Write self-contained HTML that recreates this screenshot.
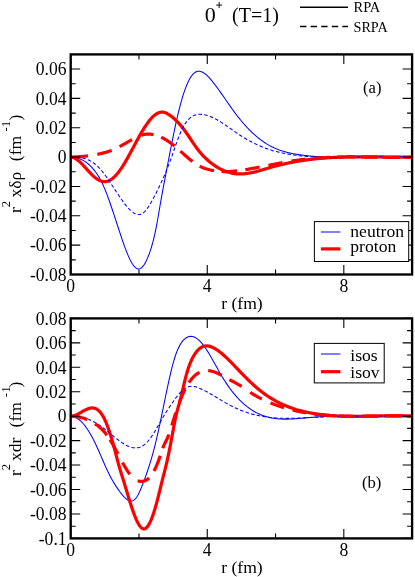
<!DOCTYPE html>
<html><head><meta charset="utf-8"><title>chart</title><style>html,body{margin:0;padding:0;background:#fff}body{width:415px;height:577px;overflow:hidden;font-family:"Liberation Serif",serif}</style></head><body>
<svg width="415" height="577" viewBox="0 0 415 577" style="display:block;will-change:transform">
<rect width="415" height="577" fill="#fff"/>
<defs><clipPath id="ca"><rect x="70.7" y="54.4" width="341.40000000000003" height="220.1"/></clipPath><clipPath id="cb"><rect x="70.7" y="318.4" width="341.40000000000003" height="220.0"/></clipPath></defs>
<g clip-path="url(#ca)"><path d="M70.70,157.13 L71.55,157.16 L72.41,157.23 L73.26,157.31 L74.11,157.42 L74.97,157.56 L75.82,157.72 L76.67,157.91 L77.53,158.13 L78.38,158.38 L79.23,158.67 L80.09,158.99 L80.94,159.34 L81.80,159.73 L82.65,160.15 L83.50,160.61 L84.36,161.12 L85.21,161.66 L86.06,162.24 L86.92,162.87 L87.77,163.54 L88.62,164.26 L89.48,165.02 L90.33,165.83 L91.18,166.69 L92.04,167.60 L92.89,168.56 L93.74,169.57 L94.60,170.64 L95.45,171.76 L96.31,172.94 L97.16,174.18 L98.01,175.49 L98.87,176.88 L99.72,178.35 L100.57,179.91 L101.43,181.56 L102.28,183.32 L103.13,185.17 L103.99,187.11 L104.84,189.13 L105.69,191.23 L106.55,193.41 L107.40,195.66 L108.25,197.96 L109.11,200.33 L109.96,202.74 L110.81,205.21 L111.67,207.71 L112.52,210.24 L113.38,212.81 L114.23,215.40 L115.08,218.00 L115.94,220.62 L116.79,223.25 L117.64,225.87 L118.50,228.49 L119.35,231.11 L120.20,233.70 L121.06,236.27 L121.91,238.81 L122.76,241.30 L123.62,243.75 L124.47,246.13 L125.32,248.44 L126.18,250.68 L127.03,252.83 L127.88,254.89 L128.74,256.84 L129.59,258.68 L130.44,260.40 L131.30,261.98 L132.15,263.43 L133.01,264.74 L133.86,265.88 L134.71,266.86 L135.57,267.67 L136.42,268.29 L137.27,268.73 L138.13,268.96 L138.98,268.98 L139.83,268.79 L140.69,268.39 L141.54,267.78 L142.39,266.96 L143.25,265.96 L144.10,264.76 L144.95,263.37 L145.81,261.80 L146.66,260.06 L147.51,258.15 L148.37,256.07 L149.22,253.83 L150.08,251.42 L150.93,248.81 L151.78,246.00 L152.64,242.96 L153.49,239.68 L154.34,236.13 L155.20,232.30 L156.05,228.17 L156.90,223.73 L157.76,218.98 L158.61,214.03 L159.46,208.99 L160.32,203.97 L161.17,199.08 L162.02,194.32 L162.88,189.68 L163.73,185.12 L164.59,180.61 L165.44,176.14 L166.29,171.68 L167.15,167.21 L168.00,162.75 L168.85,158.30 L169.71,153.88 L170.56,149.49 L171.41,145.15 L172.27,140.86 L173.12,136.64 L173.97,132.49 L174.83,128.42 L175.68,124.46 L176.53,120.59 L177.39,116.84 L178.24,113.21 L179.09,109.72 L179.95,106.36 L180.80,103.16 L181.66,100.10 L182.51,97.20 L183.36,94.44 L184.22,91.83 L185.07,89.38 L185.92,87.09 L186.78,84.95 L187.63,82.97 L188.48,81.15 L189.34,79.48 L190.19,77.99 L191.04,76.65 L191.90,75.48 L192.75,74.46 L193.60,73.59 L194.46,72.88 L195.31,72.30 L196.16,71.85 L197.02,71.53 L197.87,71.34 L198.73,71.27 L199.58,71.30 L200.43,71.45 L201.29,71.69 L202.14,72.03 L202.99,72.46 L203.85,72.97 L204.70,73.56 L205.55,74.22 L206.41,74.95 L207.26,75.74 L208.11,76.58 L208.97,77.48 L209.82,78.42 L210.67,79.40 L211.53,80.41 L212.38,81.45 L213.23,82.51 L214.09,83.59 L214.94,84.70 L215.80,85.82 L216.65,86.96 L217.50,88.12 L218.36,89.29 L219.21,90.48 L220.06,91.67 L220.92,92.88 L221.77,94.09 L222.62,95.31 L223.48,96.54 L224.33,97.77 L225.18,99.01 L226.04,100.24 L226.89,101.48 L227.74,102.71 L228.60,103.94 L229.45,105.16 L230.30,106.38 L231.16,107.59 L232.01,108.79 L232.87,109.98 L233.72,111.16 L234.57,112.32 L235.43,113.47 L236.28,114.60 L237.13,115.71 L237.99,116.81 L238.84,117.89 L239.69,118.95 L240.55,120.00 L241.40,121.03 L242.25,122.04 L243.11,123.03 L243.96,124.01 L244.81,124.97 L245.67,125.92 L246.52,126.85 L247.37,127.76 L248.23,128.65 L249.08,129.53 L249.94,130.39 L250.79,131.24 L251.64,132.06 L252.50,132.88 L253.35,133.67 L254.20,134.45 L255.06,135.21 L255.91,135.95 L256.76,136.68 L257.62,137.39 L258.47,138.08 L259.32,138.76 L260.18,139.42 L261.03,140.06 L261.88,140.69 L262.74,141.30 L263.59,141.90 L264.44,142.47 L265.30,143.03 L266.15,143.58 L267.00,144.10 L267.86,144.62 L268.71,145.11 L269.57,145.59 L270.42,146.05 L271.27,146.50 L272.13,146.93 L272.98,147.34 L273.83,147.74 L274.69,148.13 L275.54,148.50 L276.39,148.86 L277.25,149.21 L278.10,149.55 L278.95,149.87 L279.81,150.18 L280.66,150.47 L281.51,150.76 L282.37,151.03 L283.22,151.30 L284.07,151.55 L284.93,151.80 L285.78,152.03 L286.64,152.26 L287.49,152.47 L288.34,152.68 L289.20,152.88 L290.05,153.07 L290.90,153.25 L291.76,153.43 L292.61,153.60 L293.46,153.76 L294.32,153.92 L295.17,154.07 L296.02,154.21 L296.88,154.35 L297.73,154.49 L298.58,154.62 L299.44,154.75 L300.29,154.87 L301.14,154.99 L302.00,155.10 L302.85,155.22 L303.71,155.32 L304.56,155.43 L305.41,155.53 L306.27,155.63 L307.12,155.73 L307.97,155.82 L308.83,155.91 L309.68,156.00 L310.53,156.08 L311.39,156.16 L312.24,156.24 L313.09,156.31 L313.95,156.39 L314.80,156.46 L315.65,156.52 L316.51,156.59 L317.36,156.65 L318.22,156.70 L319.07,156.76 L319.92,156.81 L320.78,156.86 L321.63,156.91 L322.48,156.96 L323.34,157.00 L324.19,157.04 L325.04,157.08 L325.90,157.12 L326.75,157.15 L327.60,157.19 L328.46,157.22 L329.31,157.24 L330.16,157.27 L331.02,157.29 L331.87,157.32 L332.72,157.34 L333.58,157.36 L334.43,157.37 L335.28,157.39 L336.14,157.40 L336.99,157.41 L337.85,157.42 L338.70,157.43 L339.55,157.44 L340.41,157.44 L341.26,157.45 L342.11,157.45 L342.97,157.45 L343.82,157.45 L344.67,157.45 L345.53,157.45 L346.38,157.45 L347.23,157.44 L348.09,157.43 L348.94,157.43 L349.79,157.42 L350.65,157.41 L351.50,157.40 L352.36,157.39 L353.21,157.38 L354.06,157.37 L354.92,157.36 L355.77,157.34 L356.62,157.33 L357.48,157.31 L358.33,157.30 L359.18,157.28 L360.04,157.27 L360.89,157.25 L361.74,157.23 L362.60,157.21 L363.45,157.20 L364.30,157.18 L365.16,157.16 L366.01,157.14 L366.86,157.12 L367.72,157.11 L368.57,157.09 L369.43,157.07 L370.28,157.05 L371.13,157.03 L371.99,157.01 L372.84,157.00 L373.69,156.98 L374.55,156.96 L375.40,156.95 L376.25,156.93 L377.11,156.91 L377.96,156.90 L378.81,156.88 L379.67,156.87 L380.52,156.85 L381.37,156.84 L382.23,156.83 L383.08,156.82 L383.93,156.80 L384.79,156.79 L385.64,156.78 L386.50,156.78 L387.35,156.77 L388.20,156.76 L389.06,156.76 L389.91,156.75 L390.76,156.75 L391.62,156.75 L392.47,156.75 L393.32,156.75 L394.18,156.75 L395.03,156.75 L395.88,156.76 L396.74,156.76 L397.59,156.77 L398.44,156.78 L399.30,156.79 L400.15,156.80 L401.00,156.81 L401.86,156.83 L402.71,156.85 L403.56,156.87 L404.42,156.89 L405.27,156.91 L406.13,156.93 L406.98,156.96 L407.83,156.99 L408.69,157.02 L409.54,157.05 L410.39,157.09 L411.25,157.13 L412.10,157.17" fill="none" stroke="#0000ff" stroke-width="1.05"/>
<path d="M70.70,157.10 L71.55,157.15 L72.41,157.30 L73.26,157.55 L74.11,157.88 L74.97,158.29 L75.82,158.77 L76.67,159.33 L77.53,159.95 L78.38,160.63 L79.23,161.36 L80.09,162.14 L80.94,162.96 L81.80,163.82 L82.65,164.70 L83.50,165.61 L84.36,166.54 L85.21,167.48 L86.06,168.43 L86.92,169.39 L87.77,170.34 L88.62,171.28 L89.48,172.20 L90.33,173.10 L91.18,173.98 L92.04,174.83 L92.89,175.64 L93.74,176.41 L94.60,177.14 L95.45,177.82 L96.31,178.46 L97.16,179.05 L98.01,179.58 L98.87,180.06 L99.72,180.48 L100.57,180.84 L101.43,181.14 L102.28,181.37 L103.13,181.53 L103.99,181.62 L104.84,181.64 L105.69,181.58 L106.55,181.44 L107.40,181.22 L108.25,180.93 L109.11,180.57 L109.96,180.13 L110.81,179.62 L111.67,179.05 L112.52,178.40 L113.38,177.70 L114.23,176.92 L115.08,176.09 L115.94,175.19 L116.79,174.24 L117.64,173.23 L118.50,172.16 L119.35,171.04 L120.20,169.87 L121.06,168.64 L121.91,167.37 L122.76,166.05 L123.62,164.69 L124.47,163.29 L125.32,161.86 L126.18,160.40 L127.03,158.90 L127.88,157.39 L128.74,155.85 L129.59,154.29 L130.44,152.72 L131.30,151.13 L132.15,149.54 L133.01,147.94 L133.86,146.34 L134.71,144.74 L135.57,143.15 L136.42,141.57 L137.27,139.99 L138.13,138.43 L138.98,136.89 L139.83,135.38 L140.69,133.88 L141.54,132.41 L142.39,130.98 L143.25,129.57 L144.10,128.20 L144.95,126.86 L145.81,125.57 L146.66,124.32 L147.51,123.11 L148.37,121.95 L149.22,120.84 L150.08,119.79 L150.93,118.79 L151.78,117.85 L152.64,116.97 L153.49,116.15 L154.34,115.40 L155.20,114.72 L156.05,114.11 L156.90,113.57 L157.76,113.11 L158.61,112.74 L159.46,112.44 L160.32,112.22 L161.17,112.10 L162.02,112.06 L162.88,112.12 L163.73,112.26 L164.59,112.48 L165.44,112.77 L166.29,113.14 L167.15,113.56 L168.00,114.03 L168.85,114.56 L169.71,115.12 L170.56,115.72 L171.41,116.36 L172.27,117.03 L173.12,117.73 L173.97,118.47 L174.83,119.24 L175.68,120.05 L176.53,120.89 L177.39,121.76 L178.24,122.67 L179.09,123.61 L179.95,124.58 L180.80,125.58 L181.66,126.62 L182.51,127.69 L183.36,128.78 L184.22,129.91 L185.07,131.07 L185.92,132.26 L186.78,133.48 L187.63,134.72 L188.48,135.97 L189.34,137.24 L190.19,138.51 L191.04,139.79 L191.90,141.07 L192.75,142.33 L193.60,143.59 L194.46,144.84 L195.31,146.06 L196.16,147.26 L197.02,148.43 L197.87,149.56 L198.73,150.66 L199.58,151.72 L200.43,152.74 L201.29,153.74 L202.14,154.69 L202.99,155.62 L203.85,156.52 L204.70,157.38 L205.55,158.21 L206.41,159.02 L207.26,159.80 L208.11,160.55 L208.97,161.28 L209.82,161.98 L210.67,162.66 L211.53,163.32 L212.38,163.96 L213.23,164.58 L214.09,165.17 L214.94,165.75 L215.80,166.31 L216.65,166.85 L217.50,167.37 L218.36,167.87 L219.21,168.35 L220.06,168.81 L220.92,169.25 L221.77,169.67 L222.62,170.07 L223.48,170.46 L224.33,170.82 L225.18,171.16 L226.04,171.48 L226.89,171.79 L227.74,172.07 L228.60,172.33 L229.45,172.57 L230.30,172.80 L231.16,173.00 L232.01,173.18 L232.87,173.35 L233.72,173.49 L234.57,173.61 L235.43,173.71 L236.28,173.80 L237.13,173.86 L237.99,173.91 L238.84,173.94 L239.69,173.96 L240.55,173.95 L241.40,173.93 L242.25,173.90 L243.11,173.85 L243.96,173.79 L244.81,173.71 L245.67,173.62 L246.52,173.52 L247.37,173.40 L248.23,173.28 L249.08,173.14 L249.94,172.99 L250.79,172.83 L251.64,172.66 L252.50,172.48 L253.35,172.30 L254.20,172.10 L255.06,171.90 L255.91,171.69 L256.76,171.47 L257.62,171.25 L258.47,171.02 L259.32,170.79 L260.18,170.55 L261.03,170.31 L261.88,170.07 L262.74,169.82 L263.59,169.57 L264.44,169.31 L265.30,169.06 L266.15,168.81 L267.00,168.55 L267.86,168.30 L268.71,168.04 L269.57,167.79 L270.42,167.54 L271.27,167.29 L272.13,167.04 L272.98,166.79 L273.83,166.55 L274.69,166.32 L275.54,166.08 L276.39,165.86 L277.25,165.63 L278.10,165.41 L278.95,165.19 L279.81,164.98 L280.66,164.76 L281.51,164.56 L282.37,164.35 L283.22,164.15 L284.07,163.95 L284.93,163.76 L285.78,163.57 L286.64,163.38 L287.49,163.20 L288.34,163.02 L289.20,162.84 L290.05,162.67 L290.90,162.50 L291.76,162.33 L292.61,162.17 L293.46,162.01 L294.32,161.85 L295.17,161.69 L296.02,161.54 L296.88,161.39 L297.73,161.25 L298.58,161.10 L299.44,160.96 L300.29,160.83 L301.14,160.69 L302.00,160.56 L302.85,160.43 L303.71,160.31 L304.56,160.19 L305.41,160.07 L306.27,159.95 L307.12,159.83 L307.97,159.72 L308.83,159.61 L309.68,159.51 L310.53,159.40 L311.39,159.30 L312.24,159.20 L313.09,159.10 L313.95,159.01 L314.80,158.92 L315.65,158.83 L316.51,158.74 L317.36,158.66 L318.22,158.57 L319.07,158.49 L319.92,158.42 L320.78,158.34 L321.63,158.27 L322.48,158.20 L323.34,158.13 L324.19,158.06 L325.04,158.00 L325.90,157.93 L326.75,157.87 L327.60,157.81 L328.46,157.76 L329.31,157.70 L330.16,157.65 L331.02,157.60 L331.87,157.55 L332.72,157.50 L333.58,157.46 L334.43,157.41 L335.28,157.37 L336.14,157.33 L336.99,157.29 L337.85,157.26 L338.70,157.22 L339.55,157.19 L340.41,157.16 L341.26,157.13 L342.11,157.10 L342.97,157.07 L343.82,157.04 L344.67,157.02 L345.53,157.00 L346.38,156.98 L347.23,156.96 L348.09,156.94 L348.94,156.92 L349.79,156.90 L350.65,156.89 L351.50,156.87 L352.36,156.86 L353.21,156.85 L354.06,156.84 L354.92,156.83 L355.77,156.82 L356.62,156.81 L357.48,156.81 L358.33,156.80 L359.18,156.80 L360.04,156.80 L360.89,156.79 L361.74,156.79 L362.60,156.79 L363.45,156.79 L364.30,156.79 L365.16,156.79 L366.01,156.80 L366.86,156.80 L367.72,156.80 L368.57,156.81 L369.43,156.81 L370.28,156.82 L371.13,156.83 L371.99,156.83 L372.84,156.84 L373.69,156.85 L374.55,156.86 L375.40,156.87 L376.25,156.87 L377.11,156.88 L377.96,156.89 L378.81,156.90 L379.67,156.92 L380.52,156.93 L381.37,156.94 L382.23,156.95 L383.08,156.96 L383.93,156.97 L384.79,156.98 L385.64,156.99 L386.50,157.01 L387.35,157.02 L388.20,157.03 L389.06,157.04 L389.91,157.05 L390.76,157.07 L391.62,157.08 L392.47,157.09 L393.32,157.10 L394.18,157.11 L395.03,157.12 L395.88,157.13 L396.74,157.14 L397.59,157.15 L398.44,157.16 L399.30,157.17 L400.15,157.18 L401.00,157.19 L401.86,157.20 L402.71,157.21 L403.56,157.21 L404.42,157.22 L405.27,157.22 L406.13,157.23 L406.98,157.24 L407.83,157.24 L408.69,157.24 L409.54,157.25 L410.39,157.25 L411.25,157.25 L412.10,157.25" fill="none" stroke="#ff0000" stroke-width="3.2" stroke-linejoin="round"/>
<path d="M70.70,157.13 L71.55,157.13 L72.41,157.13 L73.26,157.14 L74.11,157.16 L74.97,157.19 L75.82,157.23 L76.67,157.28 L77.53,157.34 L78.38,157.42 L79.23,157.52 L80.09,157.64 L80.94,157.77 L81.80,157.93 L82.65,158.10 L83.50,158.31 L84.36,158.53 L85.21,158.79 L86.06,159.07 L86.92,159.38 L87.77,159.72 L88.62,160.09 L89.48,160.50 L90.33,160.94 L91.18,161.42 L92.04,161.94 L92.89,162.49 L93.74,163.08 L94.60,163.72 L95.45,164.40 L96.31,165.13 L97.16,165.90 L98.01,166.71 L98.87,167.58 L99.72,168.49 L100.57,169.45 L101.43,170.44 L102.28,171.48 L103.13,172.55 L103.99,173.65 L104.84,174.79 L105.69,175.95 L106.55,177.14 L107.40,178.35 L108.25,179.58 L109.11,180.83 L109.96,182.10 L110.81,183.38 L111.67,184.67 L112.52,185.96 L113.38,187.26 L114.23,188.57 L115.08,189.87 L115.94,191.17 L116.79,192.47 L117.64,193.76 L118.50,195.03 L119.35,196.30 L120.20,197.55 L121.06,198.78 L121.91,199.99 L122.76,201.18 L123.62,202.34 L124.47,203.47 L125.32,204.57 L126.18,205.64 L127.03,206.67 L127.88,207.66 L128.74,208.60 L129.59,209.49 L130.44,210.32 L131.30,211.09 L132.15,211.80 L133.01,212.43 L133.86,212.99 L134.71,213.47 L135.57,213.87 L136.42,214.18 L137.27,214.39 L138.13,214.51 L138.98,214.52 L139.83,214.43 L140.69,214.22 L141.54,213.90 L142.39,213.46 L143.25,212.89 L144.10,212.19 L144.95,211.36 L145.81,210.41 L146.66,209.34 L147.51,208.18 L148.37,206.92 L149.22,205.58 L150.08,204.17 L150.93,202.70 L151.78,201.18 L152.64,199.62 L153.49,198.04 L154.34,196.43 L155.20,194.80 L156.05,193.15 L156.90,191.47 L157.76,189.76 L158.61,188.03 L159.46,186.27 L160.32,184.47 L161.17,182.64 L162.02,180.77 L162.88,178.87 L163.73,176.93 L164.59,174.95 L165.44,172.93 L166.29,170.87 L167.15,168.77 L168.00,166.61 L168.85,164.42 L169.71,162.17 L170.56,159.87 L171.41,157.52 L172.27,155.12 L173.12,152.67 L173.97,150.21 L174.83,147.74 L175.68,145.28 L176.53,142.87 L177.39,140.50 L178.24,138.21 L179.09,136.02 L179.95,133.94 L180.80,131.97 L181.66,130.12 L182.51,128.39 L183.36,126.77 L184.22,125.27 L185.07,123.89 L185.92,122.62 L186.78,121.46 L187.63,120.41 L188.48,119.45 L189.34,118.60 L190.19,117.83 L191.04,117.16 L191.90,116.57 L192.75,116.06 L193.60,115.62 L194.46,115.26 L195.31,114.96 L196.16,114.72 L197.02,114.54 L197.87,114.42 L198.73,114.34 L199.58,114.31 L200.43,114.31 L201.29,114.36 L202.14,114.43 L202.99,114.54 L203.85,114.67 L204.70,114.83 L205.55,115.02 L206.41,115.23 L207.26,115.47 L208.11,115.74 L208.97,116.03 L209.82,116.34 L210.67,116.67 L211.53,117.03 L212.38,117.41 L213.23,117.80 L214.09,118.22 L214.94,118.65 L215.80,119.10 L216.65,119.56 L217.50,120.04 L218.36,120.53 L219.21,121.04 L220.06,121.56 L220.92,122.09 L221.77,122.63 L222.62,123.19 L223.48,123.75 L224.33,124.32 L225.18,124.89 L226.04,125.48 L226.89,126.07 L227.74,126.66 L228.60,127.26 L229.45,127.86 L230.30,128.46 L231.16,129.06 L232.01,129.67 L232.87,130.27 L233.72,130.87 L234.57,131.47 L235.43,132.07 L236.28,132.66 L237.13,133.25 L237.99,133.83 L238.84,134.40 L239.69,134.97 L240.55,135.53 L241.40,136.08 L242.25,136.62 L243.11,137.15 L243.96,137.68 L244.81,138.19 L245.67,138.70 L246.52,139.20 L247.37,139.69 L248.23,140.17 L249.08,140.65 L249.94,141.11 L250.79,141.57 L251.64,142.02 L252.50,142.46 L253.35,142.89 L254.20,143.31 L255.06,143.73 L255.91,144.14 L256.76,144.54 L257.62,144.93 L258.47,145.31 L259.32,145.69 L260.18,146.05 L261.03,146.41 L261.88,146.77 L262.74,147.11 L263.59,147.45 L264.44,147.77 L265.30,148.09 L266.15,148.41 L267.00,148.71 L267.86,149.01 L268.71,149.30 L269.57,149.58 L270.42,149.86 L271.27,150.12 L272.13,150.39 L272.98,150.64 L273.83,150.89 L274.69,151.13 L275.54,151.36 L276.39,151.59 L277.25,151.81 L278.10,152.02 L278.95,152.23 L279.81,152.43 L280.66,152.63 L281.51,152.82 L282.37,153.00 L283.22,153.18 L284.07,153.35 L284.93,153.52 L285.78,153.69 L286.64,153.85 L287.49,154.00 L288.34,154.15 L289.20,154.29 L290.05,154.43 L290.90,154.57 L291.76,154.70 L292.61,154.83 L293.46,154.95 L294.32,155.07 L295.17,155.18 L296.02,155.29 L296.88,155.40 L297.73,155.51 L298.58,155.61 L299.44,155.71 L300.29,155.80 L301.14,155.89 L302.00,155.98 L302.85,156.07 L303.71,156.15 L304.56,156.23 L305.41,156.30 L306.27,156.38 L307.12,156.45 L307.97,156.51 L308.83,156.58 L309.68,156.64 L310.53,156.70 L311.39,156.75 L312.24,156.81 L313.09,156.86 L313.95,156.91 L314.80,156.95 L315.65,156.99 L316.51,157.04 L317.36,157.07 L318.22,157.11 L319.07,157.14 L319.92,157.17 L320.78,157.20 L321.63,157.23 L322.48,157.25 L323.34,157.28 L324.19,157.30 L325.04,157.32 L325.90,157.33 L326.75,157.35 L327.60,157.36 L328.46,157.37 L329.31,157.38 L330.16,157.39 L331.02,157.40 L331.87,157.40 L332.72,157.40 L333.58,157.40 L334.43,157.40 L335.28,157.40 L336.14,157.40 L336.99,157.40 L337.85,157.39 L338.70,157.38 L339.55,157.38 L340.41,157.37 L341.26,157.36 L342.11,157.34 L342.97,157.33 L343.82,157.32 L344.67,157.30 L345.53,157.29 L346.38,157.27 L347.23,157.26 L348.09,157.24 L348.94,157.22 L349.79,157.20 L350.65,157.18 L351.50,157.16 L352.36,157.14 L353.21,157.12 L354.06,157.10 L354.92,157.08 L355.77,157.05 L356.62,157.03 L357.48,157.01 L358.33,156.99 L359.18,156.96 L360.04,156.94 L360.89,156.92 L361.74,156.89 L362.60,156.87 L363.45,156.85 L364.30,156.82 L365.16,156.80 L366.01,156.78 L366.86,156.76 L367.72,156.73 L368.57,156.71 L369.43,156.69 L370.28,156.67 L371.13,156.65 L371.99,156.63 L372.84,156.61 L373.69,156.59 L374.55,156.57 L375.40,156.56 L376.25,156.54 L377.11,156.52 L377.96,156.51 L378.81,156.50 L379.67,156.48 L380.52,156.47 L381.37,156.46 L382.23,156.45 L383.08,156.44 L383.93,156.43 L384.79,156.43 L385.64,156.42 L386.50,156.42 L387.35,156.41 L388.20,156.41 L389.06,156.41 L389.91,156.42 L390.76,156.42 L391.62,156.42 L392.47,156.43 L393.32,156.44 L394.18,156.45 L395.03,156.46 L395.88,156.48 L396.74,156.49 L397.59,156.51 L398.44,156.53 L399.30,156.55 L400.15,156.57 L401.00,156.60 L401.86,156.63 L402.71,156.65 L403.56,156.69 L404.42,156.72 L405.27,156.76 L406.13,156.80 L406.98,156.84 L407.83,156.88 L408.69,156.93 L409.54,156.98 L410.39,157.03 L411.25,157.08 L412.10,157.14" fill="none" stroke="#0000ff" stroke-width="1.05" stroke-dasharray="3.6 2.2"/>
<path d="M70.70,157.10 L71.56,157.09 L72.43,157.07 L73.30,157.04 L74.16,157.01 L75.03,156.97 L75.89,156.93 L76.75,156.89 L77.62,156.84 L78.48,156.78 L79.35,156.72 L80.22,156.66 L81.08,156.59 L81.94,156.51 L82.81,156.43 L83.67,156.35 L84.54,156.26 L85.41,156.16 L86.27,156.06 L87.13,155.96 L88.00,155.85M97.30,154.31 L98.19,154.13 L99.09,153.95 L99.98,153.75 L100.88,153.55 L101.77,153.34 L102.66,153.13 L103.56,152.90 L104.45,152.66 L105.34,152.42 L106.24,152.16 L107.13,151.88 L108.02,151.60 L108.92,151.30 L109.81,150.98 L110.71,150.65 L111.60,150.30M119.60,146.54 L120.49,146.06 L121.37,145.59 L122.26,145.10 L123.14,144.61 L124.03,144.12 L124.91,143.62 L125.80,143.12 L126.69,142.61 L127.57,142.11 L128.46,141.60 L129.34,141.10 L130.23,140.59 L131.11,140.09 L132.00,139.59M141.40,135.18 L142.26,134.93 L143.13,134.71 L143.99,134.53 L144.86,134.38 L145.72,134.27 L146.59,134.18 L147.45,134.13 L148.31,134.12 L149.18,134.13 L150.04,134.17 L150.91,134.25 L151.77,134.35 L152.64,134.48 L153.50,134.65M161.20,137.27 L162.09,137.70 L162.99,138.16 L163.88,138.64 L164.77,139.15 L165.67,139.67 L166.56,140.22 L167.45,140.79 L168.35,141.39 L169.24,142.00 L170.13,142.63 L171.03,143.29 L171.92,143.96 L172.81,144.65 L173.71,145.36 L174.60,146.08M180.40,151.10 L181.26,151.88 L182.13,152.65 L182.99,153.43 L183.86,154.21 L184.72,154.98 L185.59,155.75 L186.45,156.52 L187.31,157.27 L188.18,158.02 L189.04,158.75 L189.91,159.47 L190.77,160.18 L191.64,160.87 L192.50,161.54M199.70,166.21 L200.59,166.65 L201.49,167.07 L202.38,167.46 L203.28,167.83 L204.17,168.17 L205.06,168.49 L205.96,168.79 L206.85,169.06 L207.74,169.32 L208.64,169.56 L209.53,169.79 L210.43,170.00 L211.32,170.20 L212.21,170.38 L213.11,170.55 L214.00,170.70M221.50,171.48 L222.36,171.52 L223.22,171.55 L224.08,171.57 L224.94,171.57 L225.81,171.57 L226.67,171.56 L227.53,171.54 L228.39,171.51 L229.25,171.48 L230.11,171.44 L230.97,171.38 L231.83,171.33 L232.69,171.26 L233.56,171.19 L234.42,171.11 L235.28,171.03 L236.14,170.93 L237.00,170.84M245.30,169.67 L246.19,169.52 L247.07,169.38 L247.96,169.23 L248.85,169.07 L249.74,168.92 L250.62,168.76 L251.51,168.60 L252.40,168.44 L253.29,168.28 L254.18,168.12 L255.06,167.96 L255.95,167.79 L256.84,167.62 L257.73,167.45 L258.61,167.29 L259.50,167.12M268.40,165.37 L269.28,165.20 L270.15,165.03 L271.02,164.85 L271.90,164.68 L272.77,164.51 L273.65,164.34 L274.53,164.17 L275.40,163.99 L276.27,163.82 L277.15,163.66 L278.03,163.49 L278.90,163.32 L279.78,163.15 L280.65,162.99 L281.52,162.82 L282.40,162.66M291.50,161.07 L292.40,160.92 L293.30,160.78 L294.20,160.64 L295.10,160.50 L296.00,160.36 L296.90,160.23 L297.80,160.10 L298.70,159.97 L299.60,159.85 L300.50,159.73 L301.40,159.61 L302.30,159.50 L303.20,159.39 L304.10,159.28 L305.00,159.18M314.00,158.29 L314.89,158.22 L315.78,158.15 L316.67,158.08 L317.56,158.02 L318.44,157.95 L319.33,157.89 L320.22,157.83 L321.11,157.78 L322.00,157.72 L322.89,157.67 L323.78,157.62 L324.67,157.58 L325.56,157.53 L326.44,157.49 L327.33,157.45 L328.22,157.41 L329.11,157.37 L330.00,157.33M337.00,157.12 L337.86,157.10 L338.71,157.08 L339.57,157.06 L340.43,157.05 L341.29,157.03 L342.14,157.02 L343.00,157.01 L343.86,157.00 L344.71,156.99 L345.57,156.98 L346.43,156.97 L347.29,156.97 L348.14,156.96 L349.00,156.96 L349.86,156.96 L350.71,156.95 L351.57,156.95 L352.43,156.95 L353.29,156.95 L354.14,156.96 L355.00,156.96M361.00,156.99 L361.89,157.00 L362.78,157.01 L363.67,157.02 L364.56,157.03 L365.44,157.04 L366.33,157.05 L367.22,157.06 L368.11,157.07 L369.00,157.08 L369.89,157.09 L370.78,157.10 L371.67,157.11 L372.56,157.12 L373.44,157.13 L374.33,157.14 L375.22,157.15 L376.11,157.16 L377.00,157.17M382.00,157.23 L382.86,157.24 L383.71,157.25 L384.57,157.26 L385.43,157.27 L386.29,157.27 L387.14,157.28 L388.00,157.29 L388.86,157.29 L389.71,157.30 L390.57,157.30 L391.43,157.30 L392.29,157.31 L393.14,157.31 L394.00,157.31 L394.86,157.31 L395.71,157.31 L396.57,157.31 L397.43,157.31 L398.29,157.31 L399.14,157.30 L400.00,157.30M405.00,157.25 L405.88,157.23 L406.75,157.22 L407.63,157.20 L408.50,157.19 L409.38,157.17 L410.25,157.15 L411.12,157.13 L412.00,157.10" fill="none" stroke="#ff0000" stroke-width="3.2"/>
</g>
<g clip-path="url(#cb)"><path d="M70.70,416.17 L71.55,416.22 L72.41,416.34 L73.26,416.52 L74.11,416.78 L74.97,417.10 L75.82,417.49 L76.67,417.95 L77.53,418.48 L78.38,419.07 L79.23,419.73 L80.09,420.45 L80.94,421.23 L81.80,422.08 L82.65,422.99 L83.50,423.97 L84.36,425.00 L85.21,426.10 L86.06,427.25 L86.92,428.47 L87.77,429.74 L88.62,431.07 L89.48,432.46 L90.33,433.91 L91.18,435.41 L92.04,436.96 L92.89,438.57 L93.74,440.24 L94.60,441.96 L95.45,443.73 L96.31,445.55 L97.16,447.41 L98.01,449.30 L98.87,451.23 L99.72,453.17 L100.57,455.13 L101.43,457.10 L102.28,459.07 L103.13,461.04 L103.99,462.99 L104.84,464.93 L105.69,466.84 L106.55,468.72 L107.40,470.56 L108.25,472.35 L109.11,474.10 L109.96,475.78 L110.81,477.41 L111.67,478.98 L112.52,480.50 L113.38,481.97 L114.23,483.39 L115.08,484.76 L115.94,486.09 L116.79,487.38 L117.64,488.64 L118.50,489.86 L119.35,491.04 L120.20,492.20 L121.06,493.31 L121.91,494.39 L122.76,495.41 L123.62,496.37 L124.47,497.27 L125.32,498.09 L126.18,498.84 L127.03,499.49 L127.88,500.06 L128.74,500.52 L129.59,500.85 L130.44,501.04 L131.30,501.08 L132.15,500.94 L133.01,500.64 L133.86,500.15 L134.71,499.46 L135.57,498.58 L136.42,497.48 L137.27,496.18 L138.13,494.67 L138.98,492.99 L139.83,491.16 L140.69,489.20 L141.54,487.15 L142.39,485.01 L143.25,482.83 L144.10,480.59 L144.95,478.29 L145.81,475.93 L146.66,473.50 L147.51,471.00 L148.37,468.42 L149.22,465.77 L150.08,463.04 L150.93,460.22 L151.78,457.30 L152.64,454.29 L153.49,451.16 L154.34,447.91 L155.20,444.52 L156.05,441.00 L156.90,437.36 L157.76,433.62 L158.61,429.78 L159.46,425.85 L160.32,421.85 L161.17,417.78 L162.02,413.67 L162.88,409.51 L163.73,405.34 L164.59,401.16 L165.44,397.00 L166.29,392.88 L167.15,388.81 L168.00,384.81 L168.85,380.89 L169.71,377.09 L170.56,373.41 L171.41,369.86 L172.27,366.49 L173.12,363.28 L173.97,360.28 L174.83,357.49 L175.68,354.91 L176.53,352.55 L177.39,350.40 L178.24,348.43 L179.09,346.65 L179.95,345.05 L180.80,343.61 L181.66,342.33 L182.51,341.20 L183.36,340.20 L184.22,339.33 L185.07,338.59 L185.92,337.95 L186.78,337.43 L187.63,337.01 L188.48,336.69 L189.34,336.47 L190.19,336.36 L191.04,336.34 L191.90,336.41 L192.75,336.57 L193.60,336.83 L194.46,337.16 L195.31,337.58 L196.16,338.08 L197.02,338.66 L197.87,339.32 L198.73,340.05 L199.58,340.84 L200.43,341.71 L201.29,342.64 L202.14,343.63 L202.99,344.69 L203.85,345.80 L204.70,346.96 L205.55,348.18 L206.41,349.45 L207.26,350.76 L208.11,352.12 L208.97,353.52 L209.82,354.94 L210.67,356.40 L211.53,357.89 L212.38,359.39 L213.23,360.91 L214.09,362.45 L214.94,363.99 L215.80,365.53 L216.65,367.08 L217.50,368.62 L218.36,370.15 L219.21,371.66 L220.06,373.16 L220.92,374.64 L221.77,376.09 L222.62,377.51 L223.48,378.90 L224.33,380.26 L225.18,381.59 L226.04,382.89 L226.89,384.16 L227.74,385.41 L228.60,386.63 L229.45,387.82 L230.30,388.98 L231.16,390.11 L232.01,391.22 L232.87,392.30 L233.72,393.36 L234.57,394.39 L235.43,395.39 L236.28,396.37 L237.13,397.32 L237.99,398.24 L238.84,399.15 L239.69,400.02 L240.55,400.88 L241.40,401.71 L242.25,402.51 L243.11,403.29 L243.96,404.05 L244.81,404.79 L245.67,405.50 L246.52,406.20 L247.37,406.87 L248.23,407.51 L249.08,408.14 L249.94,408.75 L250.79,409.33 L251.64,409.89 L252.50,410.44 L253.35,410.96 L254.20,411.47 L255.06,411.95 L255.91,412.42 L256.76,412.86 L257.62,413.29 L258.47,413.70 L259.32,414.09 L260.18,414.46 L261.03,414.82 L261.88,415.16 L262.74,415.48 L263.59,415.79 L264.44,416.08 L265.30,416.35 L266.15,416.61 L267.00,416.86 L267.86,417.09 L268.71,417.30 L269.57,417.50 L270.42,417.69 L271.27,417.87 L272.13,418.03 L272.98,418.18 L273.83,418.32 L274.69,418.44 L275.54,418.56 L276.39,418.66 L277.25,418.75 L278.10,418.83 L278.95,418.90 L279.81,418.96 L280.66,419.01 L281.51,419.05 L282.37,419.09 L283.22,419.11 L284.07,419.13 L284.93,419.14 L285.78,419.14 L286.64,419.13 L287.49,419.12 L288.34,419.10 L289.20,419.08 L290.05,419.04 L290.90,419.01 L291.76,418.97 L292.61,418.92 L293.46,418.87 L294.32,418.81 L295.17,418.75 L296.02,418.69 L296.88,418.62 L297.73,418.56 L298.58,418.48 L299.44,418.41 L300.29,418.34 L301.14,418.26 L302.00,418.18 L302.85,418.10 L303.71,418.03 L304.56,417.95 L305.41,417.87 L306.27,417.79 L307.12,417.71 L307.97,417.64 L308.83,417.56 L309.68,417.49 L310.53,417.42 L311.39,417.35 L312.24,417.29 L313.09,417.22 L313.95,417.16 L314.80,417.10 L315.65,417.05 L316.51,416.99 L317.36,416.94 L318.22,416.89 L319.07,416.84 L319.92,416.79 L320.78,416.75 L321.63,416.70 L322.48,416.66 L323.34,416.62 L324.19,416.59 L325.04,416.55 L325.90,416.52 L326.75,416.48 L327.60,416.45 L328.46,416.42 L329.31,416.39 L330.16,416.37 L331.02,416.34 L331.87,416.32 L332.72,416.30 L333.58,416.28 L334.43,416.26 L335.28,416.24 L336.14,416.22 L336.99,416.21 L337.85,416.19 L338.70,416.18 L339.55,416.17 L340.41,416.16 L341.26,416.15 L342.11,416.14 L342.97,416.14 L343.82,416.13 L344.67,416.12 L345.53,416.12 L346.38,416.12 L347.23,416.11 L348.09,416.11 L348.94,416.11 L349.79,416.11 L350.65,416.11 L351.50,416.12 L352.36,416.12 L353.21,416.12 L354.06,416.13 L354.92,416.13 L355.77,416.13 L356.62,416.14 L357.48,416.15 L358.33,416.15 L359.18,416.16 L360.04,416.17 L360.89,416.17 L361.74,416.18 L362.60,416.19 L363.45,416.20 L364.30,416.21 L365.16,416.22 L366.01,416.23 L366.86,416.24 L367.72,416.25 L368.57,416.26 L369.43,416.27 L370.28,416.28 L371.13,416.29 L371.99,416.30 L372.84,416.31 L373.69,416.32 L374.55,416.32 L375.40,416.33 L376.25,416.34 L377.11,416.35 L377.96,416.36 L378.81,416.37 L379.67,416.38 L380.52,416.39 L381.37,416.39 L382.23,416.40 L383.08,416.41 L383.93,416.41 L384.79,416.42 L385.64,416.42 L386.50,416.43 L387.35,416.43 L388.20,416.43 L389.06,416.44 L389.91,416.44 L390.76,416.44 L391.62,416.44 L392.47,416.44 L393.32,416.44 L394.18,416.43 L395.03,416.43 L395.88,416.43 L396.74,416.42 L397.59,416.42 L398.44,416.41 L399.30,416.40 L400.15,416.39 L401.00,416.38 L401.86,416.37 L402.71,416.36 L403.56,416.34 L404.42,416.33 L405.27,416.31 L406.13,416.29 L406.98,416.27 L407.83,416.25 L408.69,416.23 L409.54,416.21 L410.39,416.18 L411.25,416.16 L412.10,416.13" fill="none" stroke="#0000ff" stroke-width="1.05"/>
<path d="M70.70,416.15 L71.55,416.13 L72.41,416.03 L73.26,415.87 L74.11,415.65 L74.97,415.37 L75.82,415.04 L76.67,414.67 L77.53,414.27 L78.38,413.83 L79.23,413.38 L80.09,412.90 L80.94,412.41 L81.80,411.92 L82.65,411.43 L83.50,410.95 L84.36,410.49 L85.21,410.04 L86.06,409.62 L86.92,409.23 L87.77,408.88 L88.62,408.58 L89.48,408.33 L90.33,408.14 L91.18,408.01 L92.04,407.95 L92.89,407.97 L93.74,408.07 L94.60,408.27 L95.45,408.55 L96.31,408.94 L97.16,409.44 L98.01,410.05 L98.87,410.79 L99.72,411.65 L100.57,412.64 L101.43,413.77 L102.28,415.05 L103.13,416.48 L103.99,418.07 L104.84,419.81 L105.69,421.70 L106.55,423.73 L107.40,425.91 L108.25,428.21 L109.11,430.65 L109.96,433.22 L110.81,435.91 L111.67,438.71 L112.52,441.63 L113.38,444.66 L114.23,447.79 L115.08,451.02 L115.94,454.33 L116.79,457.67 L117.64,460.97 L118.50,464.16 L119.35,467.18 L120.20,470.06 L121.06,472.84 L121.91,475.57 L122.76,478.29 L123.62,481.04 L124.47,483.83 L125.32,486.65 L126.18,489.49 L127.03,492.33 L127.88,495.15 L128.74,497.95 L129.59,500.72 L130.44,503.43 L131.30,506.08 L132.15,508.64 L133.01,511.12 L133.86,513.50 L134.71,515.75 L135.57,517.87 L136.42,519.85 L137.27,521.67 L138.13,523.32 L138.98,524.79 L139.83,526.06 L140.69,527.11 L141.54,527.94 L142.39,528.54 L143.25,528.88 L144.10,528.95 L144.95,528.75 L145.81,528.28 L146.66,527.55 L147.51,526.56 L148.37,525.33 L149.22,523.87 L150.08,522.18 L150.93,520.28 L151.78,518.18 L152.64,515.88 L153.49,513.40 L154.34,510.74 L155.20,507.92 L156.05,504.95 L156.90,501.83 L157.76,498.58 L158.61,495.21 L159.46,491.76 L160.32,488.26 L161.17,484.75 L162.02,481.29 L162.88,477.90 L163.73,474.59 L164.59,471.28 L165.44,467.93 L166.29,464.47 L167.15,460.83 L168.00,456.96 L168.85,452.87 L169.71,448.60 L170.56,444.18 L171.41,439.66 L172.27,435.06 L173.12,430.43 L173.97,425.84 L174.83,421.40 L175.68,417.22 L176.53,413.43 L177.39,410.08 L178.24,407.03 L179.09,404.11 L179.95,401.10 L180.80,397.84 L181.66,394.28 L182.51,390.55 L183.36,386.77 L184.22,383.10 L185.07,379.62 L185.92,376.35 L186.78,373.29 L187.63,370.44 L188.48,367.80 L189.34,365.37 L190.19,363.15 L191.04,361.12 L191.90,359.26 L192.75,357.57 L193.60,356.02 L194.46,354.62 L195.31,353.33 L196.16,352.16 L197.02,351.11 L197.87,350.16 L198.73,349.32 L199.58,348.58 L200.43,347.94 L201.29,347.40 L202.14,346.94 L202.99,346.58 L203.85,346.29 L204.70,346.09 L205.55,345.97 L206.41,345.91 L207.26,345.93 L208.11,346.01 L208.97,346.16 L209.82,346.36 L210.67,346.62 L211.53,346.93 L212.38,347.29 L213.23,347.70 L214.09,348.14 L214.94,348.62 L215.80,349.14 L216.65,349.68 L217.50,350.26 L218.36,350.86 L219.21,351.48 L220.06,352.14 L220.92,352.81 L221.77,353.51 L222.62,354.23 L223.48,354.97 L224.33,355.73 L225.18,356.51 L226.04,357.31 L226.89,358.12 L227.74,358.94 L228.60,359.78 L229.45,360.62 L230.30,361.48 L231.16,362.35 L232.01,363.23 L232.87,364.11 L233.72,365.00 L234.57,365.89 L235.43,366.79 L236.28,367.69 L237.13,368.59 L237.99,369.48 L238.84,370.38 L239.69,371.28 L240.55,372.17 L241.40,373.05 L242.25,373.93 L243.11,374.81 L243.96,375.68 L244.81,376.54 L245.67,377.40 L246.52,378.25 L247.37,379.10 L248.23,379.93 L249.08,380.76 L249.94,381.58 L250.79,382.39 L251.64,383.19 L252.50,383.98 L253.35,384.77 L254.20,385.54 L255.06,386.30 L255.91,387.04 L256.76,387.78 L257.62,388.51 L258.47,389.22 L259.32,389.92 L260.18,390.60 L261.03,391.28 L261.88,391.94 L262.74,392.58 L263.59,393.22 L264.44,393.84 L265.30,394.45 L266.15,395.05 L267.00,395.64 L267.86,396.21 L268.71,396.77 L269.57,397.32 L270.42,397.86 L271.27,398.39 L272.13,398.91 L272.98,399.42 L273.83,399.91 L274.69,400.40 L275.54,400.87 L276.39,401.33 L277.25,401.79 L278.10,402.23 L278.95,402.66 L279.81,403.09 L280.66,403.50 L281.51,403.91 L282.37,404.30 L283.22,404.69 L284.07,405.06 L284.93,405.43 L285.78,405.79 L286.64,406.14 L287.49,406.48 L288.34,406.81 L289.20,407.13 L290.05,407.45 L290.90,407.76 L291.76,408.06 L292.61,408.35 L293.46,408.64 L294.32,408.91 L295.17,409.18 L296.02,409.45 L296.88,409.70 L297.73,409.95 L298.58,410.19 L299.44,410.43 L300.29,410.66 L301.14,410.88 L302.00,411.10 L302.85,411.31 L303.71,411.51 L304.56,411.71 L305.41,411.90 L306.27,412.09 L307.12,412.27 L307.97,412.45 L308.83,412.62 L309.68,412.79 L310.53,412.95 L311.39,413.11 L312.24,413.26 L313.09,413.41 L313.95,413.55 L314.80,413.69 L315.65,413.83 L316.51,413.96 L317.36,414.08 L318.22,414.21 L319.07,414.32 L319.92,414.44 L320.78,414.55 L321.63,414.65 L322.48,414.75 L323.34,414.85 L324.19,414.95 L325.04,415.04 L325.90,415.12 L326.75,415.21 L327.60,415.28 L328.46,415.36 L329.31,415.43 L330.16,415.50 L331.02,415.57 L331.87,415.63 L332.72,415.69 L333.58,415.75 L334.43,415.80 L335.28,415.85 L336.14,415.90 L336.99,415.94 L337.85,415.99 L338.70,416.03 L339.55,416.06 L340.41,416.10 L341.26,416.13 L342.11,416.16 L342.97,416.18 L343.82,416.21 L344.67,416.23 L345.53,416.25 L346.38,416.27 L347.23,416.28 L348.09,416.30 L348.94,416.31 L349.79,416.32 L350.65,416.33 L351.50,416.33 L352.36,416.34 L353.21,416.34 L354.06,416.34 L354.92,416.34 L355.77,416.34 L356.62,416.34 L357.48,416.33 L358.33,416.33 L359.18,416.32 L360.04,416.31 L360.89,416.30 L361.74,416.29 L362.60,416.28 L363.45,416.27 L364.30,416.26 L365.16,416.25 L366.01,416.23 L366.86,416.22 L367.72,416.20 L368.57,416.19 L369.43,416.17 L370.28,416.15 L371.13,416.14 L371.99,416.12 L372.84,416.10 L373.69,416.08 L374.55,416.07 L375.40,416.05 L376.25,416.03 L377.11,416.02 L377.96,416.00 L378.81,415.98 L379.67,415.97 L380.52,415.95 L381.37,415.93 L382.23,415.92 L383.08,415.91 L383.93,415.89 L384.79,415.88 L385.64,415.87 L386.50,415.85 L387.35,415.84 L388.20,415.83 L389.06,415.83 L389.91,415.82 L390.76,415.81 L391.62,415.81 L392.47,415.80 L393.32,415.80 L394.18,415.80 L395.03,415.80 L395.88,415.80 L396.74,415.81 L397.59,415.81 L398.44,415.82 L399.30,415.83 L400.15,415.84 L401.00,415.85 L401.86,415.86 L402.71,415.88 L403.56,415.90 L404.42,415.92 L405.27,415.94 L406.13,415.97 L406.98,415.99 L407.83,416.02 L408.69,416.06 L409.54,416.09 L410.39,416.13 L411.25,416.17 L412.10,416.21" fill="none" stroke="#ff0000" stroke-width="3.2" stroke-linejoin="round"/>
<path d="M70.70,416.18 L71.55,416.18 L72.41,416.20 L73.26,416.22 L74.11,416.26 L74.97,416.32 L75.82,416.39 L76.67,416.48 L77.53,416.58 L78.38,416.69 L79.23,416.82 L80.09,416.97 L80.94,417.13 L81.80,417.31 L82.65,417.51 L83.50,417.72 L84.36,417.96 L85.21,418.21 L86.06,418.47 L86.92,418.76 L87.77,419.06 L88.62,419.38 L89.48,419.72 L90.33,420.08 L91.18,420.46 L92.04,420.86 L92.89,421.28 L93.74,421.72 L94.60,422.18 L95.45,422.66 L96.31,423.16 L97.16,423.68 L98.01,424.22 L98.87,424.78 L99.72,425.36 L100.57,425.96 L101.43,426.58 L102.28,427.21 L103.13,427.85 L103.99,428.50 L104.84,429.16 L105.69,429.84 L106.55,430.52 L107.40,431.21 L108.25,431.90 L109.11,432.60 L109.96,433.30 L110.81,434.00 L111.67,434.70 L112.52,435.41 L113.38,436.10 L114.23,436.80 L115.08,437.49 L115.94,438.17 L116.79,438.85 L117.64,439.52 L118.50,440.18 L119.35,440.82 L120.20,441.45 L121.06,442.06 L121.91,442.65 L122.76,443.22 L123.62,443.76 L124.47,444.29 L125.32,444.78 L126.18,445.25 L127.03,445.68 L127.88,446.09 L128.74,446.45 L129.59,446.78 L130.44,447.08 L131.30,447.33 L132.15,447.54 L133.01,447.70 L133.86,447.82 L134.71,447.89 L135.57,447.91 L136.42,447.87 L137.27,447.78 L138.13,447.64 L138.98,447.43 L139.83,447.17 L140.69,446.84 L141.54,446.45 L142.39,446.00 L143.25,445.47 L144.10,444.88 L144.95,444.21 L145.81,443.47 L146.66,442.65 L147.51,441.76 L148.37,440.78 L149.22,439.73 L150.08,438.62 L150.93,437.43 L151.78,436.19 L152.64,434.90 L153.49,433.56 L154.34,432.18 L155.20,430.77 L156.05,429.32 L156.90,427.86 L157.76,426.38 L158.61,424.89 L159.46,423.39 L160.32,421.90 L161.17,420.41 L162.02,418.94 L162.88,417.48 L163.73,416.05 L164.59,414.65 L165.44,413.26 L166.29,411.91 L167.15,410.57 L168.00,409.25 L168.85,407.95 L169.71,406.66 L170.56,405.39 L171.41,404.14 L172.27,402.90 L173.12,401.68 L173.97,400.48 L174.83,399.30 L175.68,398.15 L176.53,397.04 L177.39,395.95 L178.24,394.91 L179.09,393.90 L179.95,392.94 L180.80,392.03 L181.66,391.18 L182.51,390.38 L183.36,389.64 L184.22,388.97 L185.07,388.37 L185.92,387.85 L186.78,387.40 L187.63,387.04 L188.48,386.75 L189.34,386.54 L190.19,386.40 L191.04,386.33 L191.90,386.32 L192.75,386.37 L193.60,386.47 L194.46,386.62 L195.31,386.81 L196.16,387.05 L197.02,387.32 L197.87,387.62 L198.73,387.95 L199.58,388.30 L200.43,388.67 L201.29,389.05 L202.14,389.44 L202.99,389.85 L203.85,390.27 L204.70,390.70 L205.55,391.14 L206.41,391.59 L207.26,392.05 L208.11,392.52 L208.97,393.00 L209.82,393.48 L210.67,393.97 L211.53,394.46 L212.38,394.96 L213.23,395.47 L214.09,395.97 L214.94,396.48 L215.80,397.00 L216.65,397.51 L217.50,398.03 L218.36,398.54 L219.21,399.06 L220.06,399.57 L220.92,400.09 L221.77,400.60 L222.62,401.11 L223.48,401.61 L224.33,402.11 L225.18,402.61 L226.04,403.10 L226.89,403.58 L227.74,404.05 L228.60,404.52 L229.45,404.98 L230.30,405.44 L231.16,405.88 L232.01,406.31 L232.87,406.74 L233.72,407.15 L234.57,407.56 L235.43,407.96 L236.28,408.34 L237.13,408.72 L237.99,409.10 L238.84,409.46 L239.69,409.81 L240.55,410.16 L241.40,410.50 L242.25,410.82 L243.11,411.15 L243.96,411.46 L244.81,411.76 L245.67,412.06 L246.52,412.35 L247.37,412.63 L248.23,412.90 L249.08,413.17 L249.94,413.42 L250.79,413.67 L251.64,413.92 L252.50,414.15 L253.35,414.38 L254.20,414.60 L255.06,414.81 L255.91,415.02 L256.76,415.22 L257.62,415.41 L258.47,415.59 L259.32,415.77 L260.18,415.94 L261.03,416.11 L261.88,416.26 L262.74,416.42 L263.59,416.56 L264.44,416.70 L265.30,416.83 L266.15,416.96 L267.00,417.08 L267.86,417.19 L268.71,417.30 L269.57,417.40 L270.42,417.49 L271.27,417.58 L272.13,417.67 L272.98,417.75 L273.83,417.82 L274.69,417.89 L275.54,417.95 L276.39,418.01 L277.25,418.06 L278.10,418.11 L278.95,418.15 L279.81,418.19 L280.66,418.22 L281.51,418.25 L282.37,418.28 L283.22,418.30 L284.07,418.32 L284.93,418.33 L285.78,418.34 L286.64,418.35 L287.49,418.35 L288.34,418.35 L289.20,418.35 L290.05,418.34 L290.90,418.33 L291.76,418.32 L292.61,418.30 L293.46,418.29 L294.32,418.27 L295.17,418.24 L296.02,418.22 L296.88,418.19 L297.73,418.16 L298.58,418.13 L299.44,418.09 L300.29,418.06 L301.14,418.02 L302.00,417.98 L302.85,417.94 L303.71,417.90 L304.56,417.86 L305.41,417.82 L306.27,417.78 L307.12,417.73 L307.97,417.69 L308.83,417.64 L309.68,417.59 L310.53,417.55 L311.39,417.50 L312.24,417.45 L313.09,417.41 L313.95,417.36 L314.80,417.31 L315.65,417.27 L316.51,417.22 L317.36,417.18 L318.22,417.13 L319.07,417.09 L319.92,417.05 L320.78,417.01 L321.63,416.97 L322.48,416.93 L323.34,416.89 L324.19,416.86 L325.04,416.82 L325.90,416.79 L326.75,416.75 L327.60,416.72 L328.46,416.69 L329.31,416.66 L330.16,416.63 L331.02,416.60 L331.87,416.57 L332.72,416.55 L333.58,416.52 L334.43,416.50 L335.28,416.47 L336.14,416.45 L336.99,416.43 L337.85,416.41 L338.70,416.39 L339.55,416.37 L340.41,416.35 L341.26,416.33 L342.11,416.31 L342.97,416.30 L343.82,416.28 L344.67,416.26 L345.53,416.25 L346.38,416.24 L347.23,416.22 L348.09,416.21 L348.94,416.20 L349.79,416.19 L350.65,416.18 L351.50,416.17 L352.36,416.16 L353.21,416.15 L354.06,416.14 L354.92,416.14 L355.77,416.13 L356.62,416.12 L357.48,416.12 L358.33,416.11 L359.18,416.11 L360.04,416.10 L360.89,416.10 L361.74,416.10 L362.60,416.09 L363.45,416.09 L364.30,416.09 L365.16,416.09 L366.01,416.09 L366.86,416.09 L367.72,416.09 L368.57,416.08 L369.43,416.09 L370.28,416.09 L371.13,416.09 L371.99,416.09 L372.84,416.09 L373.69,416.09 L374.55,416.09 L375.40,416.09 L376.25,416.10 L377.11,416.10 L377.96,416.10 L378.81,416.10 L379.67,416.11 L380.52,416.11 L381.37,416.11 L382.23,416.12 L383.08,416.12 L383.93,416.12 L384.79,416.13 L385.64,416.13 L386.50,416.14 L387.35,416.14 L388.20,416.14 L389.06,416.15 L389.91,416.15 L390.76,416.15 L391.62,416.16 L392.47,416.16 L393.32,416.17 L394.18,416.17 L395.03,416.17 L395.88,416.18 L396.74,416.18 L397.59,416.18 L398.44,416.19 L399.30,416.19 L400.15,416.19 L401.00,416.19 L401.86,416.20 L402.71,416.20 L403.56,416.20 L404.42,416.20 L405.27,416.20 L406.13,416.20 L406.98,416.20 L407.83,416.20 L408.69,416.20 L409.54,416.20 L410.39,416.20 L411.25,416.20 L412.10,416.20" fill="none" stroke="#0000ff" stroke-width="1.05" stroke-dasharray="3.6 2.2"/>
<path d="M70.70,416.18 L71.57,416.21 L72.45,416.25 L73.32,416.31 L74.19,416.38 L75.07,416.47 L75.94,416.58 L76.82,416.70 L77.69,416.84 L78.56,417.00 L79.44,417.18 L80.31,417.37 L81.18,417.58 L82.06,417.81 L82.93,418.07 L83.81,418.34 L84.68,418.63 L85.55,418.94 L86.43,419.27 L87.30,419.63M95.00,423.75 L95.86,424.33 L96.71,424.93 L97.57,425.57 L98.43,426.23 L99.29,426.94 L100.14,427.68 L101.00,428.46 L101.86,429.29 L102.71,430.16 L103.57,431.08 L104.43,432.06 L105.29,433.08 L106.14,434.17 L107.00,435.31M110.00,439.76 L110.89,441.20 L111.78,442.68 L112.67,444.21 L113.56,445.78 L114.44,447.39 L115.33,449.02 L116.22,450.68 L117.11,452.36 L118.00,454.05M122.50,462.53 L123.43,464.20 L124.35,465.83 L125.28,467.41 L126.20,468.94 L127.12,470.40 L128.05,471.78 L128.97,473.09 L129.90,474.30M137.60,480.72 L138.48,481.03 L139.37,481.26 L140.25,481.41 L141.14,481.47 L142.02,481.45 L142.91,481.34 L143.79,481.14 L144.68,480.86 L145.56,480.48 L146.45,480.00 L147.33,479.41 L148.22,478.71 L149.10,477.89M154.00,471.01 L154.89,469.29 L155.77,467.42 L156.66,465.40 L157.54,463.22 L158.43,460.89 L159.31,458.41 L160.20,455.78M162.70,448.27 L163.59,446.05 L164.47,444.09 L165.36,442.28 L166.24,440.52 L167.13,438.71 L168.01,436.73 L168.90,434.49M171.80,425.40 L172.80,422.13 L173.80,418.91 L174.80,415.76 L175.80,412.69M179.30,402.66 L180.28,400.08 L181.27,397.63 L182.25,395.29 L183.23,393.09 L184.22,391.00 L185.20,389.04M188.90,382.68 L189.78,381.39 L190.67,380.18 L191.55,379.06 L192.43,378.02 L193.32,377.05 L194.20,376.17 L195.08,375.35 L195.97,374.61 L196.85,373.94 L197.73,373.33 L198.62,372.79 L199.50,372.32M208.20,370.62 L209.10,370.71 L210.00,370.84 L210.90,371.01 L211.80,371.22 L212.70,371.46 L213.60,371.74 L214.50,372.04 L215.40,372.37 L216.30,372.73 L217.20,373.12 L218.10,373.52 L219.00,373.95 L219.90,374.39 L220.80,374.85 L221.70,375.32M229.40,379.59 L230.27,380.07 L231.14,380.54 L232.01,381.00 L232.89,381.47 L233.76,381.94 L234.63,382.41 L235.50,382.88 L236.37,383.36 L237.24,383.85 L238.11,384.35 L238.99,384.85 L239.86,385.37 L240.73,385.91 L241.60,386.46M250.20,392.34 L251.09,392.92 L251.98,393.49 L252.88,394.05 L253.77,394.60 L254.66,395.13 L255.55,395.66 L256.45,396.17 L257.34,396.66 L258.23,397.15 L259.12,397.63 L260.02,398.09 L260.91,398.55 L261.80,398.99M270.50,402.89 L271.40,403.25 L272.30,403.60 L273.20,403.95 L274.10,404.30 L275.00,404.63 L275.90,404.97 L276.80,405.29 L277.70,405.61 L278.60,405.92 L279.50,406.23 L280.40,406.53 L281.30,406.82 L282.20,407.11 L283.10,407.39 L284.00,407.67M292.60,410.04 L293.49,410.26 L294.39,410.47 L295.28,410.68 L296.17,410.89 L297.07,411.09 L297.96,411.28 L298.85,411.47 L299.75,411.65 L300.64,411.83 L301.53,412.01 L302.43,412.18 L303.32,412.35 L304.21,412.51 L305.11,412.67 L306.00,412.82M314.00,414.01 L314.88,414.12 L315.75,414.23 L316.62,414.33 L317.50,414.43 L318.38,414.53 L319.25,414.63 L320.12,414.72 L321.00,414.80 L321.88,414.89 L322.75,414.97 L323.62,415.05 L324.50,415.12 L325.38,415.20 L326.25,415.27 L327.12,415.33 L328.00,415.40 L328.88,415.46 L329.75,415.51 L330.62,415.57 L331.50,415.62 L332.38,415.67 L333.25,415.72 L334.12,415.77 L335.00,415.81M339.00,415.97 L339.86,416.00 L340.72,416.03 L341.58,416.06 L342.44,416.08 L343.31,416.11 L344.17,416.13 L345.03,416.14 L345.89,416.16 L346.75,416.18 L347.61,416.19 L348.47,416.20 L349.33,416.21 L350.19,416.22 L351.06,416.23 L351.92,416.24 L352.78,416.24 L353.64,416.24 L354.50,416.25M361.00,416.23 L361.86,416.23 L362.71,416.22 L363.57,416.21 L364.43,416.20 L365.29,416.20 L366.14,416.19 L367.00,416.18 L367.86,416.17 L368.71,416.16 L369.57,416.15 L370.43,416.14 L371.29,416.12 L372.14,416.11 L373.00,416.10 L373.86,416.09 L374.71,416.08 L375.57,416.07 L376.43,416.05 L377.29,416.04 L378.14,416.03 L379.00,416.02M385.00,415.95 L385.89,415.94 L386.79,415.93 L387.68,415.92 L388.58,415.92 L389.47,415.91 L390.37,415.91 L391.26,415.90 L392.16,415.90 L393.05,415.90 L393.95,415.90 L394.84,415.90 L395.74,415.90 L396.63,415.90 L397.53,415.91 L398.42,415.92 L399.32,415.92 L400.21,415.93 L401.11,415.94 L402.00,415.95M407.00,416.05 L408.00,416.08 L409.00,416.11 L410.00,416.14 L411.00,416.18 L412.00,416.22" fill="none" stroke="#ff0000" stroke-width="3.2"/>
</g>
<g stroke="#000" stroke-width="1.1" fill="none">
<path d="M70.70,274.5v-9.5M70.70,54.4v9.5"/><path d="M207.26,274.5v-9.5M207.26,54.4v9.5"/><path d="M343.82,274.5v-9.5M343.82,54.4v9.5"/><path d="M138.98,274.5v-5M138.98,54.4v5"/><path d="M275.54,274.5v-5M275.54,54.4v5"/><path d="M412.10,274.5v-5M412.10,54.4v5"/><path d="M70.7,274.50h9.5M412.1,274.50h-9.5"/><path d="M70.7,245.15h9.5M412.1,245.15h-9.5"/><path d="M70.7,215.81h9.5M412.1,215.81h-9.5"/><path d="M70.7,186.46h9.5M412.1,186.46h-9.5"/><path d="M70.7,157.11h9.5M412.1,157.11h-9.5"/><path d="M70.7,127.77h9.5M412.1,127.77h-9.5"/><path d="M70.7,98.42h9.5M412.1,98.42h-9.5"/><path d="M70.7,69.07h9.5M412.1,69.07h-9.5"/><path d="M70.7,259.83h5M412.1,259.83h-5"/><path d="M70.7,230.48h5M412.1,230.48h-5"/><path d="M70.7,201.13h5M412.1,201.13h-5"/><path d="M70.7,171.79h5M412.1,171.79h-5"/><path d="M70.7,142.44h5M412.1,142.44h-5"/><path d="M70.7,113.09h5M412.1,113.09h-5"/><path d="M70.7,83.75h5M412.1,83.75h-5"/>
<path d="M70.70,538.4v-9.5M70.70,318.4v9.5"/><path d="M207.26,538.4v-9.5M207.26,318.4v9.5"/><path d="M343.82,538.4v-9.5M343.82,318.4v9.5"/><path d="M138.98,538.4v-5M138.98,318.4v5"/><path d="M275.54,538.4v-5M275.54,318.4v5"/><path d="M412.10,538.4v-5M412.10,318.4v5"/><path d="M70.7,538.40h9.5M412.1,538.40h-9.5"/><path d="M70.7,513.96h9.5M412.1,513.96h-9.5"/><path d="M70.7,489.51h9.5M412.1,489.51h-9.5"/><path d="M70.7,465.07h9.5M412.1,465.07h-9.5"/><path d="M70.7,440.62h9.5M412.1,440.62h-9.5"/><path d="M70.7,416.18h9.5M412.1,416.18h-9.5"/><path d="M70.7,391.73h9.5M412.1,391.73h-9.5"/><path d="M70.7,367.29h9.5M412.1,367.29h-9.5"/><path d="M70.7,342.84h9.5M412.1,342.84h-9.5"/><path d="M70.7,318.40h9.5M412.1,318.40h-9.5"/><path d="M70.7,526.18h5M412.1,526.18h-5"/><path d="M70.7,501.73h5M412.1,501.73h-5"/><path d="M70.7,477.29h5M412.1,477.29h-5"/><path d="M70.7,452.84h5M412.1,452.84h-5"/><path d="M70.7,428.40h5M412.1,428.40h-5"/><path d="M70.7,403.96h5M412.1,403.96h-5"/><path d="M70.7,379.51h5M412.1,379.51h-5"/><path d="M70.7,355.07h5M412.1,355.07h-5"/><path d="M70.7,330.62h5M412.1,330.62h-5"/>
</g>
<rect x="70.7" y="54.4" width="341.40000000000003" height="220.1" fill="none" stroke="#000" stroke-width="2.35"/>
<rect x="70.7" y="318.4" width="341.40000000000003" height="220.0" fill="none" stroke="#000" stroke-width="2.35"/>
<g font-family="Liberation Serif, serif" fill="#000">
<text transform="translate(66.6,280.80) scale(1,1.11)" font-size="17.6" text-anchor="end">-0.08</text>
<text transform="translate(66.6,251.45) scale(1,1.11)" font-size="17.6" text-anchor="end">-0.06</text>
<text transform="translate(66.6,222.11) scale(1,1.11)" font-size="17.6" text-anchor="end">-0.04</text>
<text transform="translate(66.6,192.76) scale(1,1.11)" font-size="17.6" text-anchor="end">-0.02</text>
<text transform="translate(66.6,163.41) scale(1,1.11)" font-size="17.6" text-anchor="end">0</text>
<text transform="translate(66.6,134.07) scale(1,1.11)" font-size="17.6" text-anchor="end">0.02</text>
<text transform="translate(66.6,104.72) scale(1,1.11)" font-size="17.6" text-anchor="end">0.04</text>
<text transform="translate(66.6,75.37) scale(1,1.11)" font-size="17.6" text-anchor="end">0.06</text>
<text transform="translate(66.6,544.70) scale(1,1.11)" font-size="17.6" text-anchor="end">-0.1</text>
<text transform="translate(66.6,520.26) scale(1,1.11)" font-size="17.6" text-anchor="end">-0.08</text>
<text transform="translate(66.6,495.81) scale(1,1.11)" font-size="17.6" text-anchor="end">-0.06</text>
<text transform="translate(66.6,471.37) scale(1,1.11)" font-size="17.6" text-anchor="end">-0.04</text>
<text transform="translate(66.6,446.92) scale(1,1.11)" font-size="17.6" text-anchor="end">-0.02</text>
<text transform="translate(66.6,422.48) scale(1,1.11)" font-size="17.6" text-anchor="end">0</text>
<text transform="translate(66.6,398.03) scale(1,1.11)" font-size="17.6" text-anchor="end">0.02</text>
<text transform="translate(66.6,373.59) scale(1,1.11)" font-size="17.6" text-anchor="end">0.04</text>
<text transform="translate(66.6,349.14) scale(1,1.11)" font-size="17.6" text-anchor="end">0.06</text>
<text transform="translate(66.6,324.70) scale(1,1.11)" font-size="17.6" text-anchor="end">0.08</text>
<text transform="translate(70.70,291.5) scale(1,1.09)" font-size="17.6" text-anchor="middle">0</text>
<text transform="translate(70.70,555.5) scale(1,1.09)" font-size="17.6" text-anchor="middle">0</text>
<text transform="translate(207.26,291.5) scale(1,1.09)" font-size="17.6" text-anchor="middle">4</text>
<text transform="translate(207.26,555.5) scale(1,1.09)" font-size="17.6" text-anchor="middle">4</text>
<text transform="translate(343.82,291.5) scale(1,1.09)" font-size="17.6" text-anchor="middle">8</text>
<text transform="translate(343.82,555.5) scale(1,1.09)" font-size="17.6" text-anchor="middle">8</text>
<text x="221.2" y="308.8" font-size="17.6">r (fm)</text>
<text x="221.2" y="572.8" font-size="17.6">r (fm)</text>
<text transform="translate(204.7,21.7) scale(1.1,1)" font-size="20">0</text>
<path d="M216.2,5.1H222.1M219.15,2.1V8.1" stroke="#000" stroke-width="0.95" fill="none"/>
<text x="232" y="21.7" font-size="20">(T=1)</text>
<path d="M300,7.3H348" stroke="#000" stroke-width="1.5"/>
<path d="M300,26.4H348" stroke="#000" stroke-width="1.5" stroke-dasharray="6.4 4.2"/>
<text x="353.5" y="12.2" font-size="14" textLength="26.8" lengthAdjust="spacingAndGlyphs">RPA</text>
<text x="353.5" y="31.8" font-size="14" textLength="34.2" lengthAdjust="spacingAndGlyphs">SRPA</text>
<text x="363" y="92.6" font-size="16.6">(a)</text>
<text x="361.9" y="487.7" font-size="16.6">(b)</text>
<g transform="translate(20.9,213) rotate(-90)"><text x="0" y="0" font-size="17.6">r</text><text x="5.8" y="-11" font-size="12.6">2</text><text x="15.4" y="0" font-size="17.6">xδρ</text><text x="51.8" y="0" font-size="17.6">(fm</text><text x="81.4" y="-11.4" font-size="13">-1</text><text x="92.4" y="0" font-size="17.6">)</text></g>
<g transform="translate(20.9,476) rotate(-90)"><text x="0" y="0" font-size="17.6">r</text><text x="5.8" y="-11" font-size="12.6">2</text><text x="14.9" y="0" font-size="17.6">xdr</text><text x="48.6" y="0" font-size="17.6">(fm</text><text x="78.8" y="-11.4" font-size="13">-1</text><text x="88.6" y="0" font-size="17.6">)</text></g>
</g>
<rect x="314.4" y="221.6" width="94.3" height="39.9" fill="#fff" stroke="#000" stroke-width="1"/><path d="M320.9,232.0H340.4" stroke="#0000ff" stroke-width="1"/><path d="M320.9,248.9H340.4" stroke="#ff0000" stroke-width="3.2"/><text x="350.3" y="236.9" font-size="17.6" font-family="Liberation Serif, serif">neutron</text><text x="350.3" y="252.4" font-size="17.6" font-family="Liberation Serif, serif">proton</text>
<rect x="314.3" y="343.4" width="69.9" height="39.5" fill="#fff" stroke="#000" stroke-width="1"/><path d="M320.9,354.0H340.4" stroke="#0000ff" stroke-width="1"/><path d="M320.9,371.7H340.4" stroke="#ff0000" stroke-width="3.2"/><text x="350.3" y="360.79999999999995" font-size="17.6" font-family="Liberation Serif, serif">isos</text><text x="350.3" y="377.59999999999997" font-size="17.6" font-family="Liberation Serif, serif">isov</text>
</svg>
</body></html>
